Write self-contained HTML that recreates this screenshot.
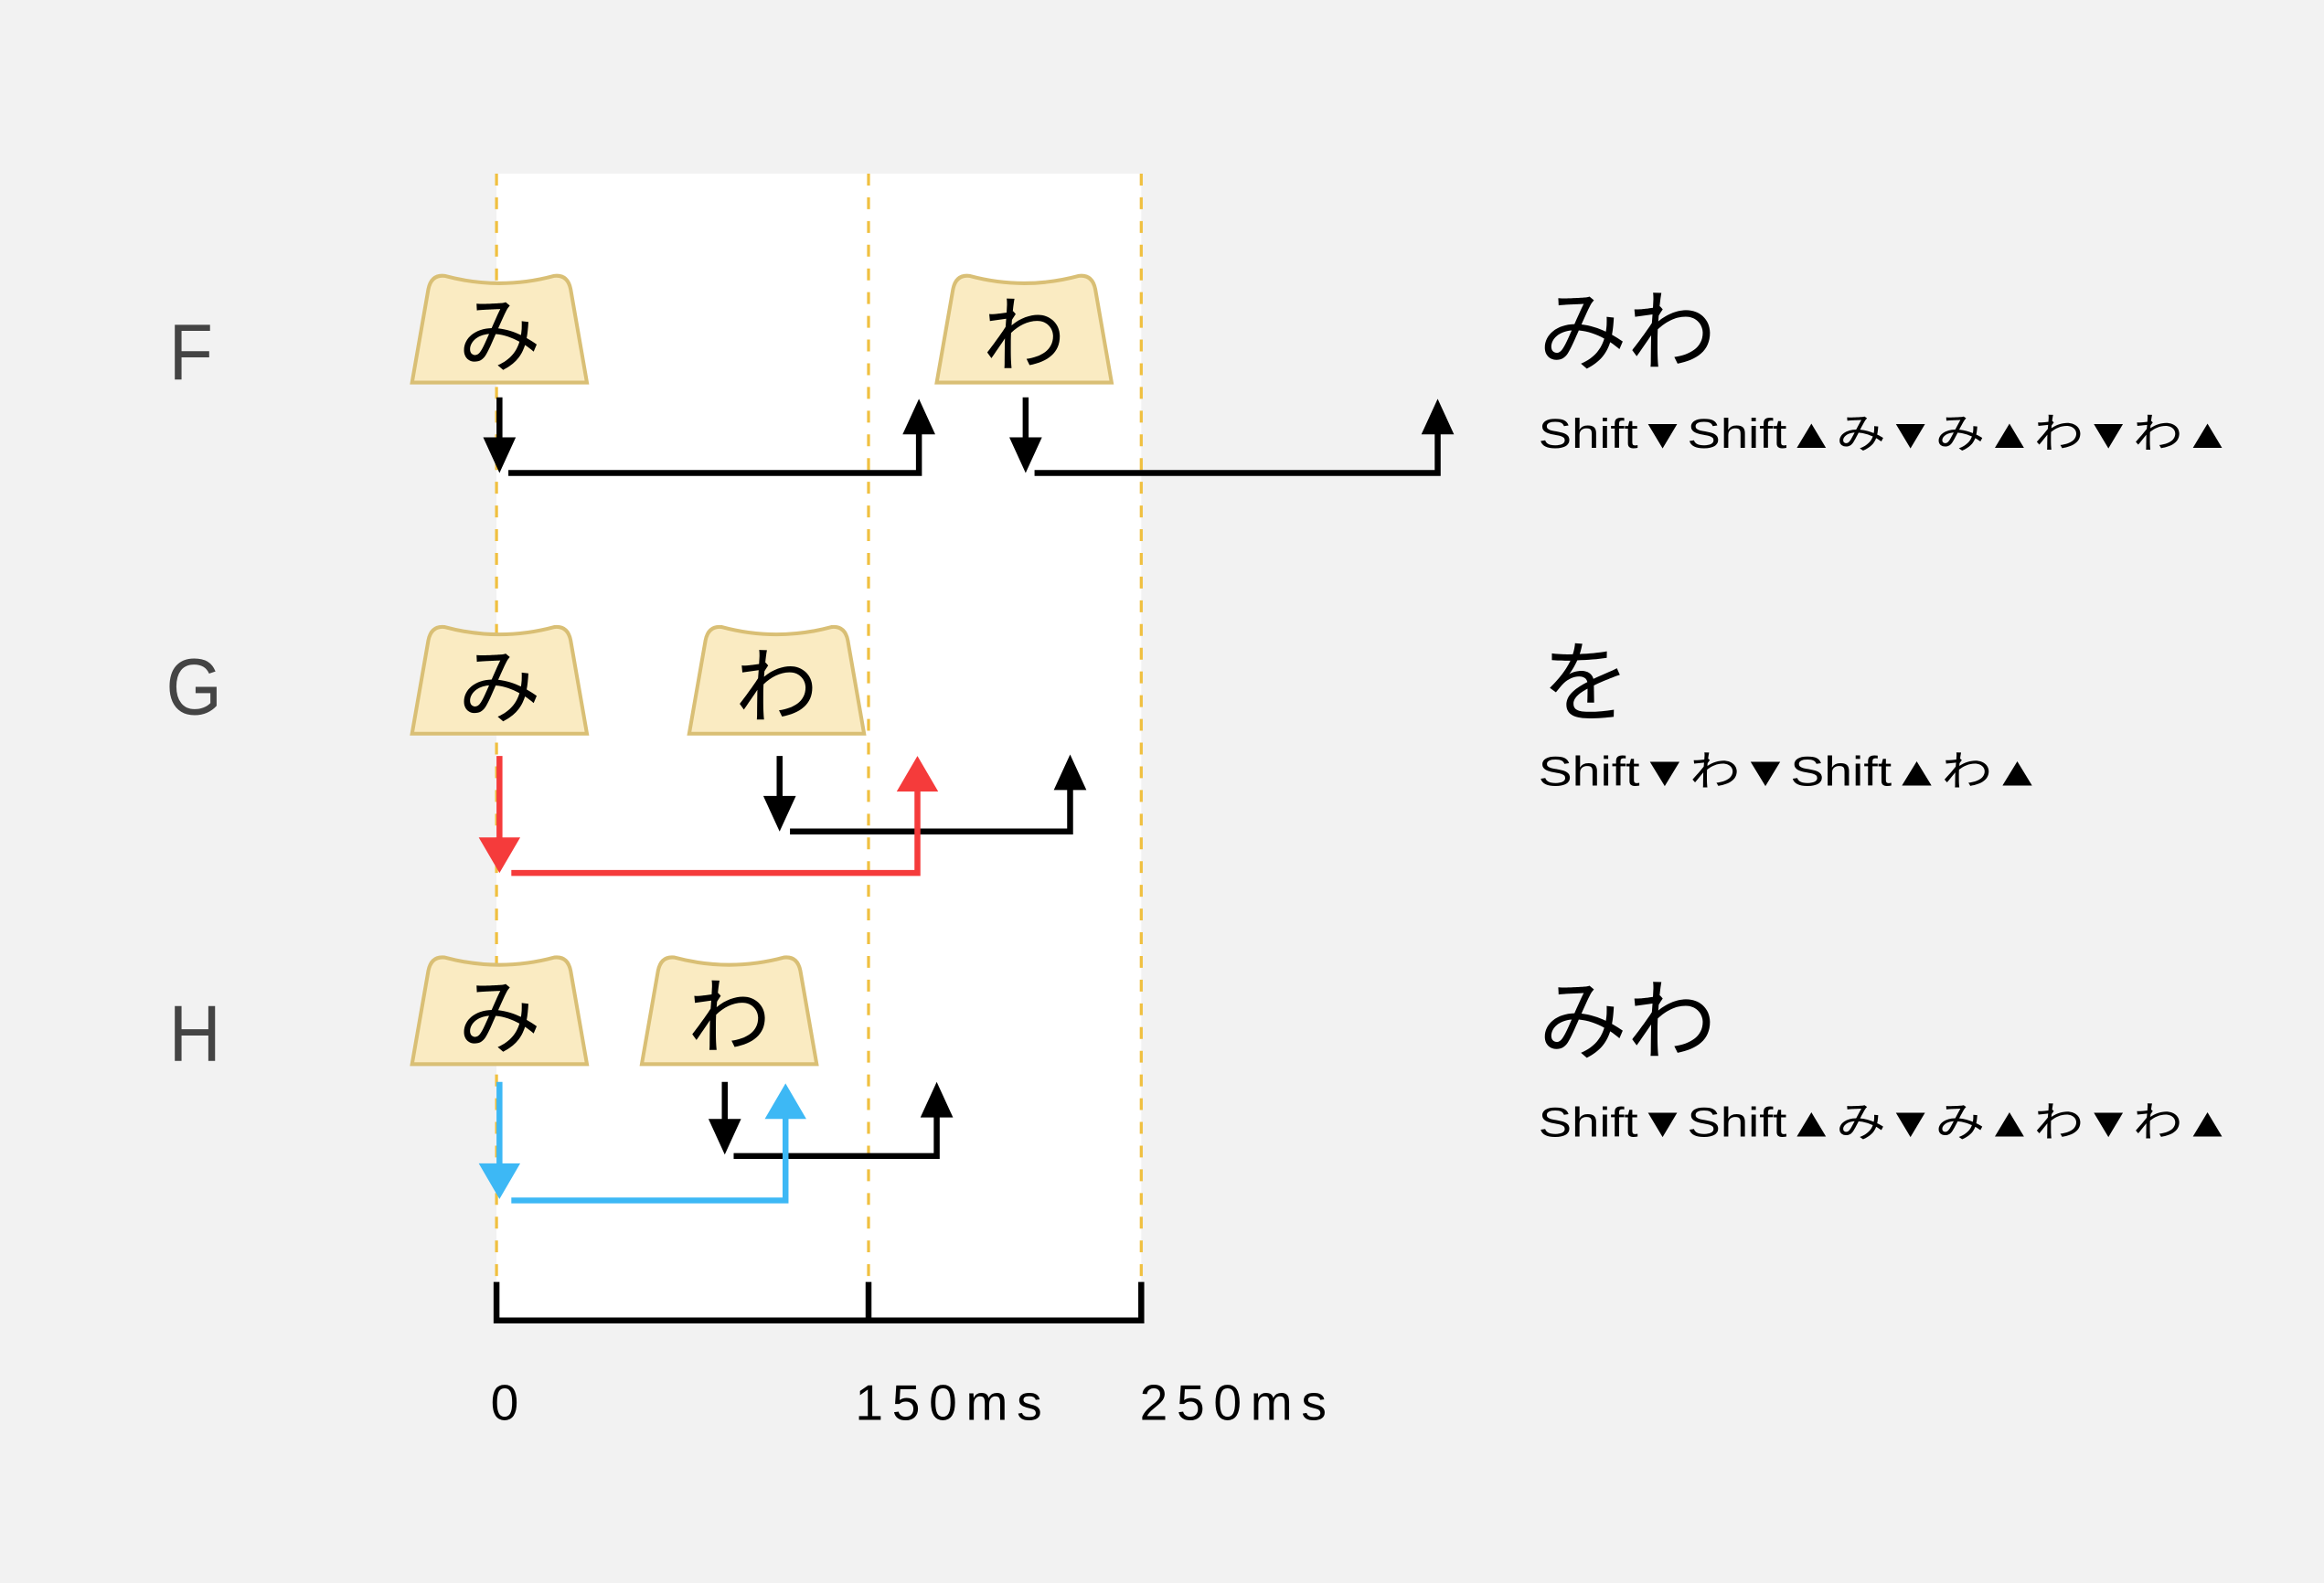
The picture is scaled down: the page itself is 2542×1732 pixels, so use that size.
<!DOCTYPE html>
<html><head><meta charset="utf-8"><style>
html,body{margin:0;padding:0;background:#f2f2f2;}
svg{display:block;}
text{font-family:"Liberation Sans","Noto Sans CJK JP",sans-serif;}
</style></head><body>
<svg width="2542" height="1732" viewBox="0 0 1568 1068" xmlns="http://www.w3.org/2000/svg">
<defs>
<path id="key" d="M0,73 L11,10 Q13,0 22,1 Q59,11 96,1 Q105,0 107,10 L118,73 Z" fill="#faebc2" stroke="#d9bf75" stroke-width="2.5"/>
</defs>
<rect width="1568" height="1068" fill="#f2f2f2"/>
<rect x="335" y="117" width="435" height="776" fill="#fff"/>
<g stroke="#f0c040" stroke-width="2" stroke-dasharray="8,8">
<line x1="335" y1="117" x2="335" y2="865"/>
<line x1="586" y1="117" x2="586" y2="865"/>
<line x1="770" y1="117" x2="770" y2="865"/>
</g>
<g font-size="54" fill="#444">
<text x="114" y="256" transform="translate(114,0) scale(0.9,1) translate(-114,0)">F</text>
<text x="112" y="482" transform="translate(112,0) scale(0.9,1) translate(-112,0)">G</text>
<text x="114" y="716" transform="translate(114,0) scale(0.9,1) translate(-114,0)">H</text>
</g>
<g font-size="56" fill="#000" text-anchor="middle">
<use href="#key" x="278" y="185"/><text x="337" y="246">み</text>
<use href="#key" x="632" y="185"/><text x="691" y="246">わ</text>
<use href="#key" x="278" y="422"/><text x="337" y="483">み</text>
<use href="#key" x="465" y="422"/><text x="524" y="483">わ</text>
<use href="#key" x="278" y="645"/><text x="337" y="706">み</text>
<use href="#key" x="433" y="645"/><text x="492" y="706">わ</text>
</g>
<g stroke="#000" stroke-width="4" fill="none">
<line x1="337" y1="268" x2="337" y2="298"/>
<polyline points="343,319 620,319 620,290"/>
<line x1="692" y1="268" x2="692" y2="298"/>
<polyline points="698,319 970,319 970,290"/>
<line x1="526" y1="510" x2="526" y2="540"/>
<polyline points="533,561 722,561 722,530"/>
<line x1="489" y1="730" x2="489" y2="758"/>
<polyline points="495,780 632,780 632,752"/>
<polyline points="335,865 335,891 770,891 770,865"/>
<line x1="586" y1="865" x2="586" y2="893"/>
</g>
<g fill="#000">
<polygon points="326,295 348,295 337,319"/>
<polygon points="609,293 631,293 620,269"/>
<polygon points="681,295 703,295 692,319"/>
<polygon points="959,293 981,293 970,269"/>
<polygon points="515,537 537,537 526,561"/>
<polygon points="711,533 733,533 722,509"/>
<polygon points="478,755 500,755 489,779"/>
<polygon points="621,754 643,754 632,730"/>
</g>
<g stroke="#f53b3b" stroke-width="4" fill="none">
<line x1="337" y1="510" x2="337" y2="568"/>
<polyline points="345,589 619,589 619,530"/>
</g>
<g fill="#f53b3b">
<polygon points="323,565 351,565 337,589"/>
<polygon points="605,534 633,534 619,510"/>
</g>
<g stroke="#3db8f5" stroke-width="4" fill="none">
<line x1="337" y1="730" x2="337" y2="788"/>
<polyline points="345,810 530,810 530,752"/>
</g>
<g fill="#3db8f5">
<polygon points="323,785 351,785 337,809"/>
<polygon points="516,755 544,755 530,731"/>
</g>
<g font-size="34" fill="#000" letter-spacing="6">
<text x="331" y="958">0</text>
<text x="577" y="958">150ms</text>
<text x="769" y="958">250ms</text>
</g>
<g fill="#000">
<text x="1038" y="245" font-size="60">みわ</text>
<text x="1038" y="302" font-size="28" textLength="468" lengthAdjust="spacingAndGlyphs">Shift▼Shift▲み▼み▲わ▼わ▲</text>
<text x="1040" y="482" font-size="60">を</text>
<text x="1038" y="530" font-size="28" textLength="340" lengthAdjust="spacingAndGlyphs">Shift▼わ▼Shift▲わ▲</text>
<text x="1038" y="710" font-size="60">みわ</text>
<text x="1038" y="767" font-size="28" textLength="468" lengthAdjust="spacingAndGlyphs">Shift▼Shift▲み▼み▲わ▼わ▲</text>
</g>
</svg>
</body></html>
